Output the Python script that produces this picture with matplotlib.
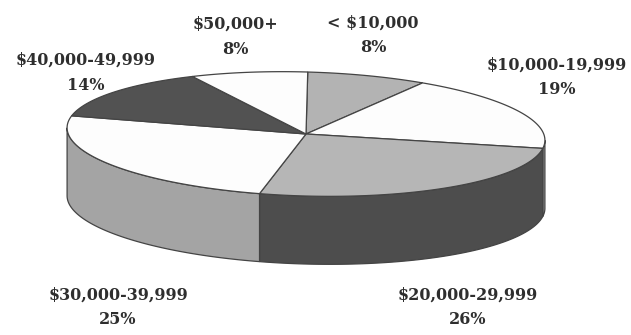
import numpy as np
import matplotlib
matplotlib.use('Agg')
from matplotlib import pyplot as plt
from matplotlib.patches import Polygon

# income brackets, clockwise from 12 o'clock
brackets = ['< $10,000', '$10,000-19,999', '$20,000-29,999',
            '$30,000-39,999', '$40,000-49,999', '$50,000+']
shares = [8, 19, 26, 25, 14, 8]
top_colors = ['#b3b3b3', '#fdfdfd', '#b6b6b6', '#fdfdfd', '#525252', '#fdfdfd']

# label anchors (pixel coords, y down) - first line of each label
label_xy = [(373, 23), (557, 65), (468, 295), (118, 295), (86, 60), (235, 24)]
line_gap = 25

# pie geometry
cx, cy = 306, 134
a, b = 239, 62
depth = 68
tilt = np.radians(1.6)

side_shade = {'#fdfdfd': '#a4a4a4', '#b3b3b3': '#4f4f4f',
              '#b6b6b6': '#4d4d4d', '#525252': '#353535'}


def rim(theta, dy=0.0):
    u = a * np.sin(theta)
    v = -b * np.cos(theta)
    x = cx + u * np.cos(tilt) - v * np.sin(tilt)
    y = cy + u * np.sin(tilt) + v * np.cos(tilt) + dy
    return x, y


fig = plt.figure(figsize=(6.31, 3.35), dpi=100)
ax = fig.add_axes([0, 0, 1, 1])
ax.set_xlim(0, 631)
ax.set_ylim(335, 0)
ax.axis('off')

frac = np.array(shares, dtype=float) / sum(shares)
bounds = np.concatenate([[0], np.cumsum(frac)]) * 2 * np.pi

# visible front wall runs between the two silhouette angles
t_right = np.arctan2(a * np.cos(tilt), b * np.sin(tilt))
t_left = t_right + np.pi

edge = '#444444'
for i in range(len(shares)):
    t0 = max(bounds[i], t_right)
    t1 = min(bounds[i + 1], t_left)
    if t1 <= t0:
        continue
    t = np.linspace(t0, t1, 80)
    xt, yt = rim(t)
    xb, yb = rim(t[::-1], depth)
    pts = np.column_stack([np.concatenate([xt, xb]), np.concatenate([yt, yb])])
    ax.add_patch(Polygon(pts, closed=True, facecolor=side_shade[top_colors[i]],
                         edgecolor=edge, linewidth=0.9))

for i in range(len(shares)):
    t = np.linspace(bounds[i], bounds[i + 1], 120)
    xt, yt = rim(t)
    pts = np.column_stack([np.concatenate([[cx], xt]), np.concatenate([[cy], yt])])
    ax.add_patch(Polygon(pts, closed=True, facecolor=top_colors[i],
                         edgecolor=edge, linewidth=0.9))

font = dict(ha='center', va='center', family='DejaVu Serif',
            fontweight='bold', fontsize=11.5, color='#2e2e2e')
for name, pct, (x, y) in zip(brackets, shares, label_xy):
    ax.text(x, y, name, **font)
    ax.text(x, y + line_gap, '%d%%' % pct, **font)

fig.savefig('out.png', dpi=100)
